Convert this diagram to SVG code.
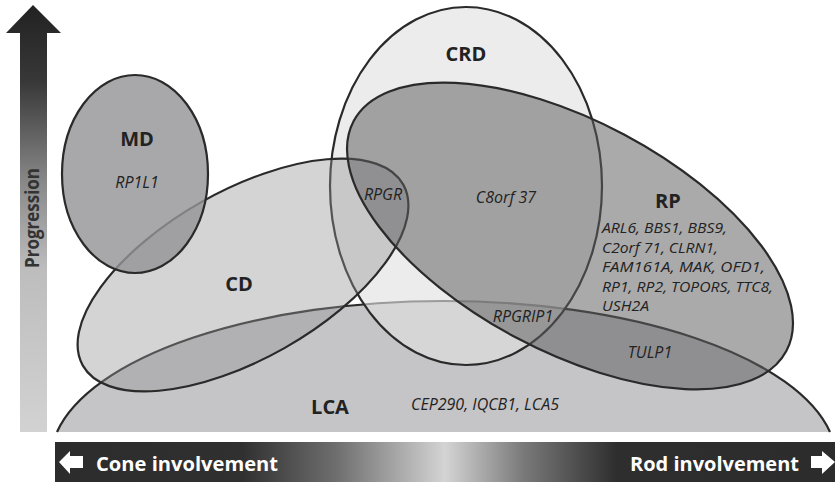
<svg xmlns="http://www.w3.org/2000/svg" width="835" height="482" viewBox="0 0 835 482">
  <defs>
    <linearGradient id="gProg" x1="0" y1="5" x2="0" y2="432" gradientUnits="userSpaceOnUse">
      <stop offset="0" stop-color="#222"/>
      <stop offset="0.18" stop-color="#383838"/>
      <stop offset="0.42" stop-color="#8a8a8a"/>
      <stop offset="0.62" stop-color="#bdbdbd"/>
      <stop offset="1" stop-color="#d2d2d2"/>
    </linearGradient>
    <linearGradient id="gBar" x1="55" y1="0" x2="835" y2="0" gradientUnits="userSpaceOnUse">
      <stop offset="0" stop-color="#2c2c2c"/>
      <stop offset="0.24" stop-color="#303030"/>
      <stop offset="0.36" stop-color="#6e6e6e"/>
      <stop offset="0.50" stop-color="#d4d4d4"/>
      <stop offset="0.60" stop-color="#7a7a7a"/>
      <stop offset="0.72" stop-color="#2e2e2e"/>
      <stop offset="1" stop-color="#2c2c2c"/>
    </linearGradient>
    <style>
      .set { stroke: #2a2a2a; stroke-width: 2.2; }
      .title { font-family: "Open Sans", "Liberation Sans", sans-serif; font-weight: bold; font-size: 20px; fill: #222; text-anchor: middle; }
      .gene { font-family: "Open Sans", "Liberation Sans", sans-serif; font-style: italic; font-size: 16px; fill: #222; }
      .rpg { font-size: 14.5px; }
      .mid { text-anchor: middle; }
      .axis { font-family: "Open Sans", "Liberation Sans", sans-serif; font-weight: bold; font-size: 20px; fill: #fff; }
    </style>
  </defs>

  <g id="progression-axis">
    <polygon points="33,5 61,33 47,33 47,432 20,432 20,33 6,33" fill="url(#gProg)"/>
    <text transform="translate(39,218) rotate(-90)" font-family="Open Sans, Liberation Sans, sans-serif" font-weight="bold" font-size="19" fill="#333" text-anchor="middle" textLength="100" lengthAdjust="spacingAndGlyphs">Progression</text>
  </g>

  <g id="involvement-axis">
    <rect x="55" y="442" width="780" height="40" fill="url(#gBar)"/>
    <polygon points="59,462 70,451 70,456 83,456 83,468 70,468 70,474" fill="#fff"/>
    <polygon points="835,462 822,451 822,456 811,456 811,468 822,468 822,474" fill="#fff"/>
    <text class="axis" x="96" y="471" textLength="182" lengthAdjust="spacingAndGlyphs">Cone involvement</text>
    <text class="axis" x="630" y="471" textLength="169" lengthAdjust="spacingAndGlyphs">Rod involvement</text>
  </g>

  <g id="LCA">
    <path class="set" d="M57,432 A393,160 0 0 1 830,432" fill="#c5c5c7"/>
    <text class="title" x="330" y="414" font-size="21">LCA</text>
    <text class="gene mid" x="485" y="410">CEP290, IQCB1, LCA5</text>
  </g>

  <g id="CRD">
    <ellipse class="set" cx="466" cy="186" rx="136" ry="179" fill="#e0e0e0" fill-opacity="0.62"/>
    <text class="title" x="466" y="61">CRD</text>
  </g>

  <g id="CD">
    <ellipse class="set" cx="243" cy="275" rx="184" ry="84" transform="rotate(-29.5 243 275)" fill="#949496" fill-opacity="0.4"/>
    <text class="title" x="239" y="291">CD</text>
  </g>

  <g id="MD">
    <ellipse class="set" cx="135" cy="174" rx="73" ry="99" fill="#949496" fill-opacity="0.81"/>
    <text class="title" x="137" y="146">MD</text>
    <text class="gene mid" x="137" y="188">RP1L1</text>
  </g>

  <g id="RP">
    <ellipse class="set" cx="570" cy="236" rx="245" ry="115" transform="rotate(28 570 236)" fill="#5e5e60" fill-opacity="0.53"/>
    <text class="title" x="668" y="208">RP</text>
    <text class="gene rpg" x="602" y="233" textLength="125" lengthAdjust="spacingAndGlyphs">ARL6, BBS1, BBS9,</text>
    <text class="gene rpg" x="602" y="252.5" textLength="116" lengthAdjust="spacingAndGlyphs">C2orf 71, CLRN1,</text>
    <text class="gene rpg" x="602" y="272" textLength="163" lengthAdjust="spacingAndGlyphs">FAM161A, MAK, OFD1,</text>
    <text class="gene rpg" x="602" y="291.5" textLength="171" lengthAdjust="spacingAndGlyphs">RP1, RP2, TOPORS, TTC8,</text>
    <text class="gene rpg" x="602" y="311" textLength="47" lengthAdjust="spacingAndGlyphs">USH2A</text>
  </g>

  <g id="overlap-genes">
    <text class="gene mid" x="383" y="200">RPGR</text>
    <text class="gene mid" x="506" y="203">C8orf 37</text>
    <text class="gene mid" x="523" y="322">RPGRIP1</text>
    <text class="gene mid" x="650" y="358">TULP1</text>
  </g>
</svg>
